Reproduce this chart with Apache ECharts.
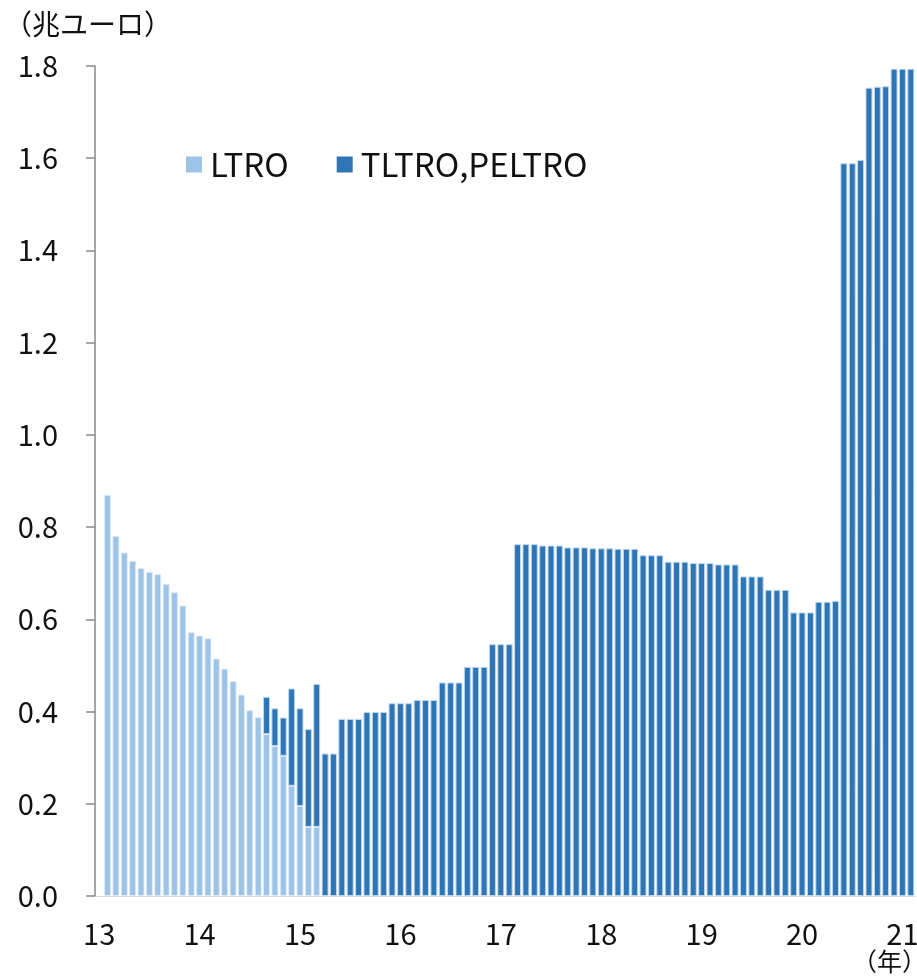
<!DOCTYPE html>
<html>
<head>
<meta charset="utf-8">
<script src="https://cdn.jsdelivr.net/npm/echarts@6/dist/echarts.min.js"></script>
<style>
  html, body { margin: 0; padding: 0; background: #fff; }
  #chart { width: 917px; height: 977px; }
</style>
</head>
<body>
<div id="chart"></div>
<script>
// months Jan 2013 - Feb 2021
var months = [];
for (var y = 2013; y <= 2021; y++) {
    for (var m = 1; m <= 12; m++) {
        if (y === 2021 && m > 2) break;
        months.push(y + '-' + (m < 10 ? '0' + m : m));
    }
}

// LTRO outstanding (trillion EUR), Jan 2013 .. Mar 2015
var ltro = [null,
    0.870, 0.781, 0.745, 0.727, 0.711, 0.703, 0.698, 0.677, 0.659, 0.630, 0.572,
    0.565, 0.559, 0.515, 0.493, 0.466, 0.437, 0.403, 0.388, 0.351, 0.325, 0.304,
    0.239, 0.195, 0.150, 0.150];

// TLTRO, PELTRO outstanding, starts Sep 2014
var tltroStart = 20;
var tltro = [
    0.081, 0.082, 0.083, 0.211, 0.212, 0.212, 0.310,
    0.309, 0.309, 0.384, 0.384, 0.384, 0.399, 0.399, 0.399, 0.418, 0.418, 0.418,
    0.425, 0.425, 0.425, 0.463, 0.463, 0.463, 0.497, 0.497, 0.497, 0.546, 0.546, 0.546,
    0.763, 0.763, 0.763, 0.760, 0.760, 0.760, 0.756, 0.756, 0.756, 0.754, 0.754, 0.754,
    0.753, 0.753, 0.753, 0.739, 0.739, 0.739, 0.725, 0.725, 0.725, 0.722, 0.722, 0.722,
    0.719, 0.719, 0.719, 0.693, 0.693, 0.693, 0.664, 0.664, 0.664, 0.615, 0.615, 0.615,
    0.638, 0.638, 0.640, 1.589, 1.589, 1.596, 1.753, 1.755, 1.756, 1.794, 1.794, 1.794];

var yTicks = [0, 0.2, 0.4, 0.6, 0.8, 1.0, 1.2, 1.4, 1.6, 1.8];

var ltroData = months.map(function (d, i) {
    return i < ltro.length ? ltro[i] : null;
});
var tltroData = months.map(function (d, i) {
    return i >= tltroStart ? tltro[i - tltroStart] : null;
});

var font = '"Noto Sans CJK JP", "Noto Sans", sans-serif';
var chart = echarts.init(document.getElementById('chart'));

var option = {
    animation: false,
    textStyle: { fontFamily: font },
    grid: { left: 95, right: 2, top: 66, bottom: 81, containLabel: false, outerBoundsMode: 'none' },
    legend: {
        left: 181,
        top: 143,
        itemWidth: 16,
        itemHeight: 16,
        itemGap: 48,
        icon: 'rect',
        itemStyle: { borderWidth: 0 },
        textStyle: { fontSize: 33, color: '#111', fontFamily: font, padding: [0, 0, 0, 3] },
        data: ['LTRO', 'TLTRO,PELTRO']
    },
    xAxis: {
        type: 'category',
        data: months,
        axisLine: { lineStyle: { color: '#d9d9d9', width: 1 } },
        axisTick: { interval: 0, length: 9, lineStyle: { color: '#d9d9d9' } },
        axisLabel: {
            interval: 0,
            margin: 23,
            fontSize: 29,
            color: '#111',
            formatter: function (v) {
                return v.slice(5) === '01' ? v.slice(2, 4) : '';
            }
        },
        splitLine: { show: false }
    },
    yAxis: {
        type: 'value',
        min: 0,
        max: 1.8,
        interval: 0.2,
        axisLine: { show: true, lineStyle: { color: '#898989', width: 1.5 } },
        axisTick: { show: true, inside: false, length: 9, lineStyle: { color: '#898989', width: 1.5 } },
        axisLabel: {
            margin: 37,
            fontSize: 29,
            color: '#111',
            formatter: function (v) { return v.toFixed(1); }
        },
        splitLine: { show: false }
    },
    series: [
        {
            name: 'LTRO',
            type: 'bar',
            stack: 'total',
            barCategoryGap: '17%',
            itemStyle: { color: '#9DC3E6', borderColor: '#DEEBF7', borderWidth: 1 },
            data: ltroData
        },
        {
            name: 'TLTRO,PELTRO',
            type: 'bar',
            stack: 'total',
            barCategoryGap: '17%',
            itemStyle: { color: '#2E75B6', borderColor: '#BDD7EE', borderWidth: 1 },
            data: tltroData
        }
    ],
    graphic: [
        {
            type: 'text',
            left: 4,
            top: 10,
            style: { text: '（兆ユーロ）', fontSize: 28, fill: '#111', fontFamily: font }
        },
        {
            type: 'text',
            right: -10,
            top: 949,
            style: { text: '（年）', fontSize: 25, fill: '#111', fontFamily: font }
        }
    ]
};

chart.setOption(option);
</script>
</body>
</html>
